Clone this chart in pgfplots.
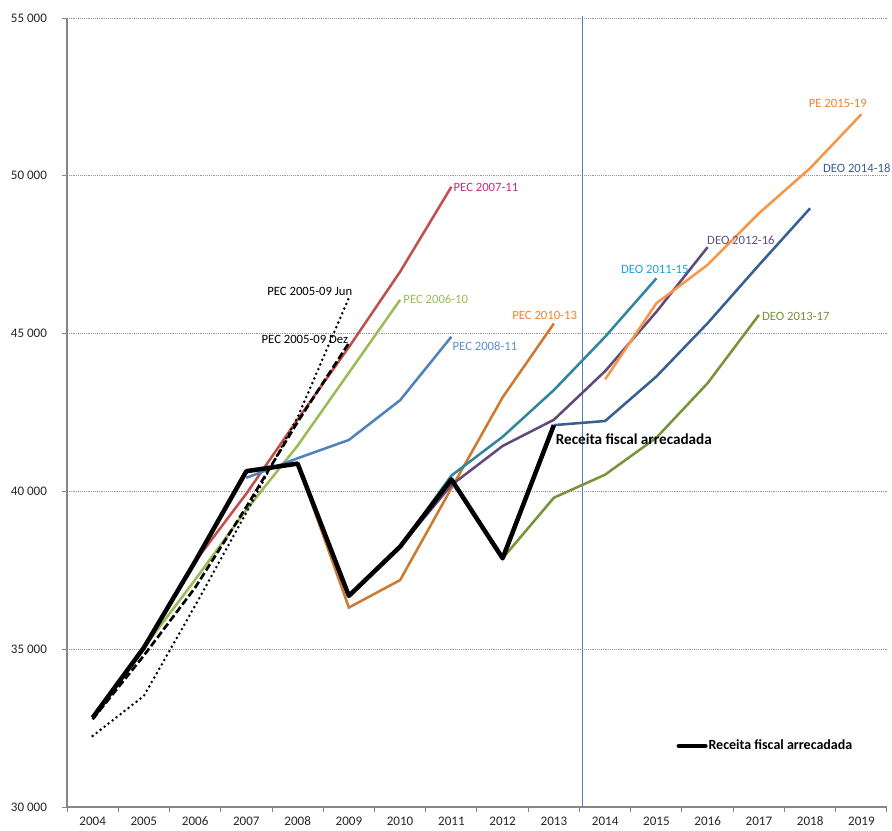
\documentclass[border=0pt]{standalone}
\usepackage{pgfplots}
\pgfplotsset{compat=1.18}
\usepackage{fontspec}
\setmainfont{Carlito}
\definecolor{axgray}{RGB}{134,134,134}
\definecolor{gridgray}{RGB}{150,150,150}
\definecolor{cred}{RGB}{192,80,77}
\definecolor{cgreen}{RGB}{155,187,89}
\definecolor{cblue}{RGB}{79,129,189}
\definecolor{corange}{RGB}{204,122,48}
\definecolor{cteal}{RGB}{49,133,156}
\definecolor{cpurple}{RGB}{96,74,123}
\definecolor{cpe}{RGB}{247,150,70}
\definecolor{cdblue}{RGB}{55,96,146}
\definecolor{colive}{RGB}{119,147,60}
\definecolor{lmagenta}{RGB}{192,48,128}
\definecolor{lblue}{RGB}{91,143,208}
\definecolor{lorange}{RGB}{240,130,50}
\definecolor{lcyan}{RGB}{30,160,215}
\definecolor{lpurple}{RGB}{100,80,125}
\definecolor{ldblue}{RGB}{60,95,145}
\definecolor{lolive}{RGB}{118,146,60}
\begin{document}
\begin{tikzpicture}
\useasboundingbox (-50.25pt,-18pt) rectangle (618.75pt,605.25pt);
\begin{axis}[
  scale only axis, width=615pt, height=591.75pt,
  xmin=2003.5, xmax=2019.5, ymin=30000, ymax=55000,
  axis x line*=bottom, axis y line*=left,
  axis line style={-, draw=axgray, line width=0.8pt},
  clip=false,
  tick align=outside, major tick length=3.5pt,
  tick style={draw=axgray, line width=0.7pt},
  xtick={2003.5,2004.5,...,2019.5}, xticklabels={},
  extra x ticks={2004,2005,...,2019},
  extra x tick labels={2004,2005,2006,2007,2008,2009,2010,2011,2012,2013,2014,2015,2016,2017,2018,2019},
  extra x tick style={major tick length=0pt},
  ytick={30000,35000,...,55000},
  yticklabels={30 000,35 000,40 000,45 000,50 000,55 000},
  ymajorgrids,
  major grid style={draw=gridgray, line width=0.6pt, dash pattern=on 0.7pt off 0.7pt},
  ticklabel style={font=\fontsize{9.8}{11}\selectfont, text=black!85},
  yticklabel style={xshift=-8pt},
  xticklabel style={yshift=-4pt},
  legend style={at={(0.743,0.0773)}, anchor=west, draw=none, fill=none,
    font=\bfseries\fontsize{10.5}{12}\selectfont, inner sep=0pt,
    nodes={inner sep=0.6pt}},
  legend image code/.code={\draw[#1, line cap=round] (0pt,0pt) -- (20pt,0pt);},
]
% vertical separator
\addplot[cblue, line width=0.8pt, forget plot] coordinates {(2013.55,30000) (2013.55,55060)};
% PEC 2006-10
\addplot[cgreen, line width=1.9pt, forget plot] coordinates {(2005,35050)(2006,37200)(2007,39420)(2008,41450)(2009,43760)(2010,46070)};
% PEC 2007-11
\addplot[cred, line width=1.9pt, forget plot] coordinates {(2006,37780)(2007,39930)(2008,42280)(2009,44570)(2010,46960)(2011,49650)};
% PEC 2008-11
\addplot[cblue, line width=1.9pt, forget plot] coordinates {(2007,40430)(2008,41050)(2009,41630)(2010,42890)(2011,44900)};
% PEC 2010-13
\addplot[corange, line width=1.9pt, forget plot] coordinates {(2008,40880)(2009,36320)(2010,37190)(2011,40100)(2012,42980)(2013,45320)};
% DEO 2011-15
\addplot[cteal, line width=1.9pt, forget plot] coordinates {(2010,38250)(2011,40500)(2012,41730)(2013,43210)(2014,44900)(2015,46750)};
% DEO 2012-16
\addplot[cpurple, line width=1.9pt, forget plot] coordinates {(2010,38250)(2011,40200)(2012,41440)(2013,42270)(2014,43810)(2015,45690)(2016,47740)};
% DEO 2013-17
\addplot[colive, line width=1.9pt, forget plot] coordinates {(2012,37880)(2013,39800)(2014,40530)(2015,41700)(2016,43430)(2017,45590)};
% DEO 2014-18
\addplot[cdblue, line width=1.9pt, forget plot] coordinates {(2013,42100)(2014,42230)(2015,43640)(2016,45330)(2017,47170)(2018,48970)};
% PE 2015-19
\addplot[cpe, line width=1.9pt, forget plot] coordinates {(2014,43550)(2015,45960)(2016,47180)(2017,48810)(2018,50240)(2019,51950)};
% PEC 2005-09 Jun (dotted)
\addplot[black, line width=2.1pt, line cap=round, dash pattern=on 0pt off 3.8pt, forget plot] coordinates {(2004,32250)(2005,33520)(2006,36380)(2007,39330)(2008,42350)(2009,46130)};
% PEC 2005-09 Dez (dashed)
\addplot[black, line width=2pt, dash pattern=on 5.5pt off 2.3pt, forget plot] coordinates {(2004,32780)(2005,34800)(2006,36950)(2007,39510)(2008,42200)(2009,44700)};
% Receita fiscal arrecadada
\addplot[black, line width=3.4pt, line join=round] coordinates {(2004,32830)(2005,35050)(2006,37780)(2007,40640)(2008,40880)(2009,36690)(2010,38250)(2011,40380)(2012,37880)(2013,42100)};
\addlegendentry{Receita fiscal arrecadada}
% labels
\node[anchor=east, font=\fontsize{9.5}{11}\selectfont, text=black, inner sep=0pt] at (axis cs:2009.07,46350) {PEC 2005-09 Jun};
\node[anchor=east, font=\fontsize{9.5}{11}\selectfont, text=black, inner sep=0pt] at (axis cs:2008.99,44800) {PEC 2005-09 Dez};
\node[anchor=west, font=\fontsize{9.5}{11}\selectfont, text=lmagenta, inner sep=0pt] at (axis cs:2011.04,49645) {PEC 2007-11};
\node[anchor=west, font=\fontsize{9.5}{11}\selectfont, text=cgreen, inner sep=0pt] at (axis cs:2010.06,46096) {PEC 2006-10};
\node[anchor=west, font=\fontsize{9.5}{11}\selectfont, text=lblue, inner sep=0pt] at (axis cs:2011.02,44607) {PEC 2008-11};
\node[font=\fontsize{9.5}{11}\selectfont, text=lorange, inner sep=0pt] at (axis cs:2012.82,45589) {PEC 2010-13};
\node[font=\fontsize{9.5}{11}\selectfont, text=lcyan, inner sep=0pt] at (axis cs:2014.97,47047) {DEO 2011-15};
\node[font=\fontsize{9.5}{11}\selectfont, text=lpurple, inner sep=0pt] at (axis cs:2016.65,47966) {DEO 2012-16};
\node[font=\fontsize{9.5}{11}\selectfont, text=lorange, inner sep=0pt] at (axis cs:2018.54,52300) {PE 2015-19};
\node[font=\fontsize{9.5}{11}\selectfont, text=ldblue, inner sep=0pt] at (axis cs:2018.91,50253) {DEO 2014-18};
\node[font=\fontsize{9.5}{11}\selectfont, text=lolive, inner sep=0pt] at (axis cs:2017.72,45558) {DEO 2013-17};
\node[font=\bfseries\fontsize{11.4}{13}\selectfont, text=black, inner sep=0pt] at (axis cs:2014.56,41661) {Receita fiscal arrecadada};
\end{axis}
\end{tikzpicture}
\end{document}
